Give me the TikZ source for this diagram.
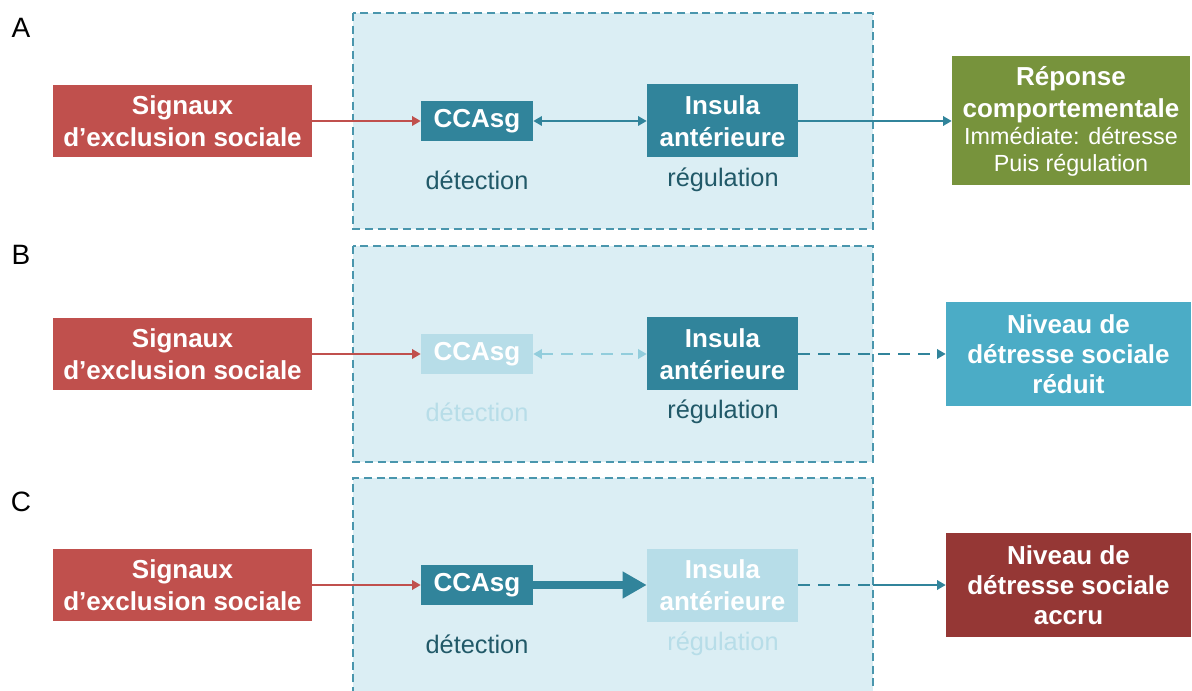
\documentclass[tikz,border=0pt]{standalone}
\usepackage{fontspec}
\setmainfont{Liberation Sans}
\usetikzlibrary{arrows.meta}
\definecolor{cred}{HTML}{C0504D}
\definecolor{cteal}{HTML}{31849B}
\definecolor{clight}{HTML}{B7DDE8}
\definecolor{cpanel}{HTML}{DBEEF4}
\definecolor{cborder}{HTML}{4A96AD}
\definecolor{cgreen}{HTML}{77933C}
\definecolor{cblue}{HTML}{4BACC6}
\definecolor{caccru}{HTML}{953735}
\definecolor{clabel}{HTML}{215968}
\definecolor{cdash}{HTML}{92CDDC}
\begin{document}
\begin{tikzpicture}[x=0.75pt,y=-0.75pt,
  box/.style={inner sep=0pt,align=center,text=white,font=\bfseries\fontsize{19.5}{24}\selectfont},
  redbox/.style={box,fill=cred,minimum width=194.25pt,minimum height=54pt},
  ccbox/.style={box,minimum width=84pt,minimum height=30.5pt},
  insbox/.style={box,minimum width=113.25pt,minimum height=54.75pt},
  endbox/.style={box,minimum width=183.75pt,minimum height=77.5pt,font=\bfseries\fontsize{19.5}{22.5}\selectfont},
  lab/.style={inner sep=0pt,font=\fontsize{19}{22}\selectfont},
  letter/.style={inner sep=0pt,font=\fontsize{21}{24}\selectfont},
  panel/.style={fill=cpanel},
  pborder/.style={draw=cborder,line width=1.6pt,dash pattern=on 6pt off 3.5pt},
  thin/.style={line width=2.2pt},
  head/.style={-{Triangle[length=6.5pt,width=7pt]}},
  dhead/.style={{Triangle[length=6.5pt,width=7pt]}-{Triangle[length=6.5pt,width=7pt]}},
  ddash/.style={dash pattern=on 9pt off 6pt}
]
\useasboundingbox (0,0) rectangle (1192,691);
% panels
\fill[panel] (353,13) rectangle (873,229);
\draw[pborder] (353,13) rectangle (873,229);
\fill[panel] (353,246) rectangle (873,462);
\draw[pborder] (353,246) rectangle (873,462);
\fill[panel] (353,478) rectangle (873,691);
\draw[pborder] (353,695) -- (353,478) -- (873,478) -- (873,695);
% letters
\node[letter] (la) at (21,28) {A};
\node[letter] (lb) at (21,255) {B};
\node[letter] (lc) at (21,502) {C};
% row A
\node[redbox] (sigA) at (182.5,121) {Signaux\\d’exclusion sociale};
\node[ccbox,fill=cteal] (ccA) at (477,121) {CCAsg};
\node[insbox,fill=cteal] (insA) at (722.5,121) {Insula\\antérieure};
\node[box,fill=cgreen,minimum width=178.5pt,minimum height=96.75pt] (repA) at (1071,121)
  {Réponse\\comportementale\\[-3.5pt]{\mdseries\fontsize{17.5}{20}\selectfont Immédiate: détresse}\\[-4pt]{\mdseries\fontsize{17.5}{20}\selectfont Puis régulation}};
\node[lab,text=clabel] (detA) at (477,180) {détection};
\node[lab,text=clabel] (regA) at (723,180) {régulation};
\draw[thin,cred,head] (sigA) -- (ccA);
\draw[thin,cteal,dhead] (ccA) -- (insA);
\draw[thin,cteal,head] (insA) -- (repA);
% row B
\node[redbox] (sigB) at (182.5,354) {Signaux\\d’exclusion sociale};
\node[ccbox,fill=clight] (ccB) at (477,354) {CCAsg};
\node[insbox,fill=cteal] (insB) at (722.5,354) {Insula\\antérieure};
\node[endbox,fill=cblue] (nivB) at (1068.5,354) {Niveau de\\détresse sociale\\réduit};
\node[lab,text=clight] (detB) at (477,412) {détection};
\node[lab,text=clabel] (regB) at (723,412) {régulation};
\draw[thin,cred,head] (sigB) -- (ccB);
\draw[thin,cdash,dhead,ddash] (ccB) -- (insB);
\draw[thin,cteal,head,ddash] (insB) -- (nivB);
% row C
\node[redbox] (sigC) at (182.5,585) {Signaux\\d’exclusion sociale};
\node[ccbox,fill=cteal] (ccC) at (477,585) {CCAsg};
\node[insbox,fill=clight] (insC) at (722.5,585) {Insula\\antérieure};
\node[endbox,fill=caccru] (nivC) at (1068.5,585) {Niveau de\\détresse sociale\\accru};
\node[lab,text=clabel] (detC) at (477,644) {détection};
\node[lab,text=clight] (regC) at (723,644) {régulation};
\coordinate (edgeC) at (873,585);
\draw[thin,cred,head] (sigC) -- (ccC);
\draw[cteal,line width=6pt,-{Triangle[length=18pt,width=19pt]}] (ccC) -- (insC);
\draw[thin,cteal,ddash] (insC) -- (edgeC);
\draw[thin,cteal,head] (edgeC) -- (nivC);
\end{tikzpicture}
\end{document}
